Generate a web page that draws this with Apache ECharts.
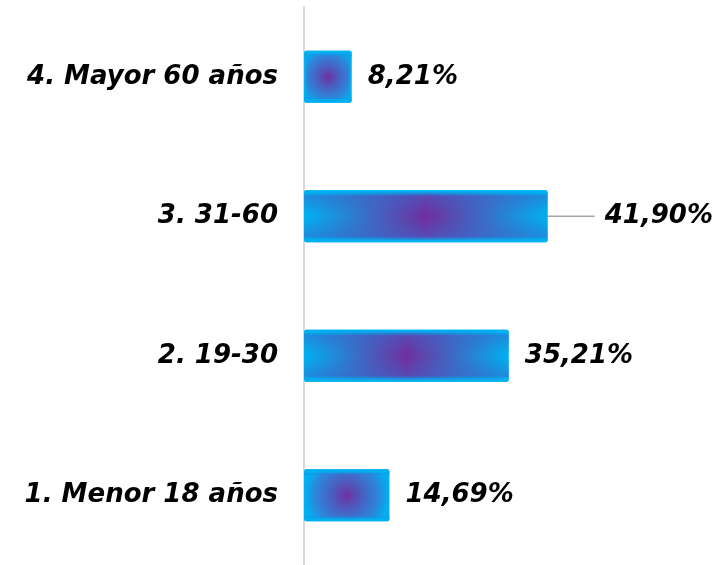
<!DOCTYPE html>
<html>
<head>
<meta charset="utf-8">
<script src="https://cdn.jsdelivr.net/npm/echarts@6/dist/echarts.min.js"></script>
<style>
html, body { margin: 0; padding: 0; background: #fff; }
#chart { width: 721px; height: 565px; }
</style>
</head>
<body>
<div id="chart"></div>
<script>
// categories bottom -> top
let categories = ['1. Menor 18 años', '2. 19-30', '3. 31-60', '4. Mayor 60 años'];
let values = [14.69, 35.21, 41.90, 8.21];
// label pushed away from the bar (with leader line)
let movedLabel = 2;

let cyan = '#00b0f0';
let purple = '#7030a0';

function fmt(v) {
    return v.toFixed(2).replace('.', ',') + '%';
}

// short bars look like a round glow, long ones like a horizontal glow
function fillFor(v) {
    if (v < 20) {
        return {
            type: 'radial', x: 0.5, y: 0.5, r: v < 10 ? 0.62 : 0.82,
            colorStops: [
                { offset: 0, color: purple },
                { offset: 0.35, color: '#4a5ec0' },
                { offset: 0.75, color: '#2a88dc' },
                { offset: 1, color: cyan }
            ]
        };
    }
    return {
        type: 'linear', x: 0, y: 0, x2: 1, y2: 0,
        colorStops: [
            { offset: 0, color: cyan },
            { offset: 0.5, color: purple },
            { offset: 1, color: cyan }
        ]
    };
}

function rimFor(v) {
    let soft = v < 20 ? 0 : 0.45;
    return {
        type: 'linear', x: 0, y: 0, x2: 0, y2: 1,
        colorStops: [
            { offset: 0, color: 'rgba(0,176,240,1)' },
            { offset: 0.06, color: 'rgba(0,176,240,0.7)' },
            { offset: 0.12, color: 'rgba(60,100,200,' + soft + ')' },
            { offset: 0.45, color: 'rgba(60,100,200,0)' },
            { offset: 0.55, color: 'rgba(60,100,200,0)' },
            { offset: 0.88, color: 'rgba(60,100,200,' + soft + ')' },
            { offset: 0.94, color: 'rgba(0,176,240,0.7)' },
            { offset: 1, color: 'rgba(0,176,240,1)' }
        ]
    };
}

let chart = echarts.init(document.getElementById('chart'));

let textStyle = {
    color: '#000',
    fontSize: 26,
    fontWeight: 'bold',
    fontStyle: 'italic',
    fontFamily: 'DejaVu Sans'
};

let option = {
    animation: false,
    grid: { left: 304, right: 68, top: 7, height: 560 },
    xAxis: {
        type: 'value',
        min: 0,
        max: 60,
        show: false
    },
    yAxis: {
        type: 'category',
        data: categories,
        axisLine: { show: true, lineStyle: { color: '#d9d9d9', width: 2 } },
        axisTick: { show: false },
        axisLabel: Object.assign({ margin: 26 }, textStyle)
    },
    series: [
        {
            type: 'bar',
            barWidth: 52,
            data: values.map((v, i) => {
                let item = { value: v, itemStyle: { color: fillFor(v) } };
                if (i === movedLabel) {
                    item.labelLine = { show: true };
                    item.label = { padding: [0, 0, 0, 10], backgroundColor: 'rgba(255,255,255,0)' };
                }
                return item;
            }),
            itemStyle: {
                borderRadius: 2,
                borderColor: cyan,
                borderWidth: 2
            },
            label: Object.assign({
                show: true,
                position: 'right',
                distance: 16,
                formatter: p => fmt(p.value)
            }, textStyle),
            labelLine: {
                show: false,
                lineStyle: { color: '#a6a6a6', width: 1.5 }
            },
            labelLayout: function (p) {
                if (p.dataIndex === movedLabel) {
                    return { dx: 31 };
                }
                return {};
            }
        },
        {
            // cyan rim at top and bottom
            type: 'bar',
            barWidth: 52,
            barGap: '-100%',
            silent: true,
            data: values.map(v => ({ value: v, itemStyle: { color: rimFor(v) } })),
            itemStyle: { borderRadius: 2 }
        }
    ]
};

chart.setOption(option);
</script>
</body>
</html>
